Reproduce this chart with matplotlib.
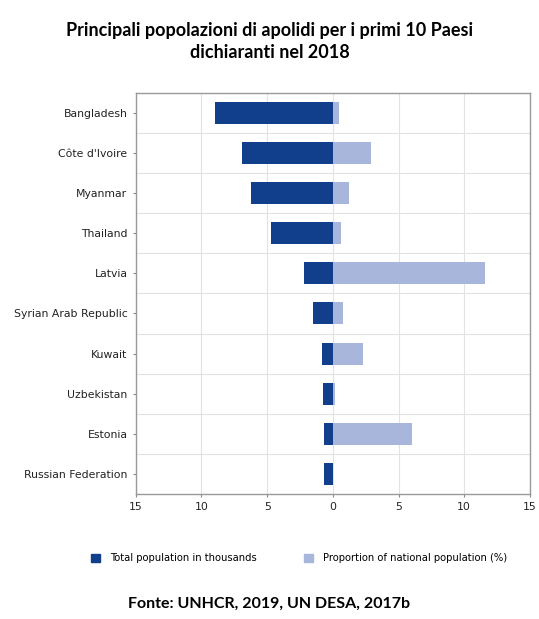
import matplotlib.pyplot as plt
from matplotlib.ticker import FixedLocator, FuncFormatter
from matplotlib.patches import Patch

countries = ["Bangladesh", "Côte d'Ivoire", "Myanmar", "Thailand", "Latvia",
             "Syrian Arab Republic", "Kuwait", "Uzbekistan", "Estonia",
             "Russian Federation"]
# popolazione apolide in migliaia (lato sinistro) e quota sulla popolazione nazionale in %
total_thousands = [9.0, 6.9, 6.2, 4.7, 2.2, 1.5, 0.85, 0.75, 0.7, 0.7]
share_pct = [0.5, 2.9, 1.2, 0.6, 11.6, 0.8, 2.3, 0.15, 6.0, 0.05]

dark = "#123f8c"
light = "#a9b6dc"

fig = plt.figure(figsize=(5.39, 6.19), dpi=100)
ax = fig.add_axes([0.252, 0.202, 0.731, 0.648])

y = list(range(len(countries)))
ax.barh(y, [-v for v in total_thousands], height=0.55, color=dark, zorder=3)
ax.barh(y, share_pct, height=0.55, color=light, zorder=3)

ax.set_xlim(-15, 15)
ax.set_ylim(len(countries) - 0.5, -0.5)
ax.set_xticks([-15, -10, -5, 0, 5, 10, 15])
ax.xaxis.set_major_formatter(FuncFormatter(lambda v, p: f"{abs(int(v))}"))
ax.set_yticks(y)
ax.set_yticklabels(countries)
ax.yaxis.set_minor_locator(FixedLocator([i + 0.5 for i in range(len(countries) - 1)]))

ax.grid(axis="x", which="major", color="#e2e2e2", lw=0.8, zorder=0)
ax.grid(axis="y", which="minor", color="#e2e2e2", lw=0.8, zorder=0)
ax.tick_params(axis="y", which="minor", length=0)
ax.tick_params(axis="both", which="major", labelsize=7.8, length=2.5,
               color="#888888", labelcolor="#222222")
for s in ax.spines.values():
    s.set_color("#999999")
    s.set_linewidth(1.0)

fig.text(0.5, 0.950, "Principali popolazioni di apolidi per i primi 10 Paesi",
         ha="center", va="center", fontsize=13, fontweight="bold", family="Lato")
fig.text(0.5, 0.915, "dichiaranti nel 2018",
         ha="center", va="center", fontsize=13, fontweight="bold", family="Lato")

handles = [Patch(color=dark, label="Total population in thousands"),
           Patch(color=light, label="Proportion of national population (%)")]
fig.legend(handles=handles, loc="center", bbox_to_anchor=(0.555, 0.098), ncol=2,
           frameon=False, fontsize=7.2, handlelength=0.9, handleheight=0.9,
           columnspacing=4.8, handletextpad=1.0)

fig.text(0.5, 0.024, "Fonte: UNHCR, 2019, UN DESA, 2017b",
         ha="center", va="center", fontsize=11.5, fontweight="bold", family="Lato")

fig.savefig("out.png", dpi=100)
